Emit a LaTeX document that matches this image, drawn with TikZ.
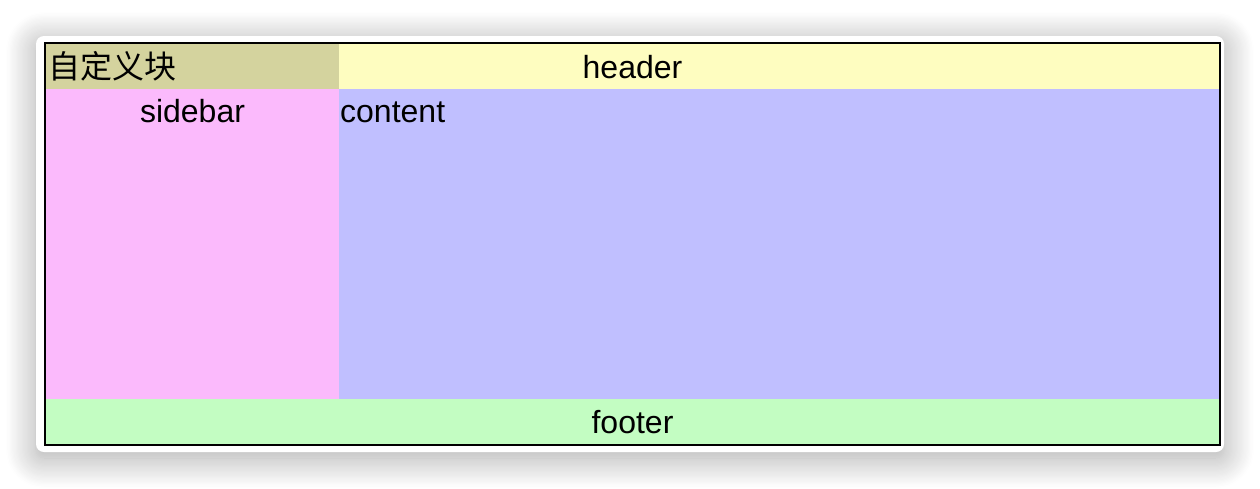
\documentclass[tikz,border=0pt]{standalone}
\usepackage{fontspec}
\setmainfont{Liberation Sans}
\newfontfamily\cjk{Noto Sans CJK SC}
\usetikzlibrary{positioning,shadows.blur}

\definecolor{customcol}{HTML}{D4D39E}
\definecolor{headercol}{HTML}{FEFDC0}
\definecolor{sidebarcol}{HTML}{FBBAFC}
\definecolor{contentcol}{HTML}{C0BFFF}
\definecolor{footercol}{HTML}{C3FDC2}

\tikzset{
  area/.style={inner sep=0pt, outer sep=0pt, anchor=north west, draw=none},
  txt/.style={inner sep=0pt, font=\fontsize{32}{38}\selectfont},
}

\begin{document}
\begin{tikzpicture}[x=1pt, y=-1pt]
		\useasboundingbox (0,0) rectangle (1260,488);
		% card with shadow
		\path[fill=white, rounded corners=8pt,
			blur shadow={shadow xshift=0pt, shadow yshift=-6pt, shadow blur radius=30pt,
				shadow blur steps=25, shadow opacity=35}]
			(36,36) rectangle (1224,452);
		\begin{scope}[every node/.style={area}]
			\node[fill=headercol, minimum width=1173pt, minimum height=45pt] (header) at (46,44) {};
			\node[fill=customcol, minimum width=293pt, minimum height=45pt] (custom) at (46,44) {};
			\node[fill=sidebarcol, minimum width=293pt, minimum height=310pt] (sidebar) at (46,89) {};
			\node[fill=contentcol, minimum width=880pt, minimum height=310pt] (content) at (339,89) {};
			\node[fill=footercol, minimum width=1173pt, minimum height=45pt] (footer) at (46,399) {};
		\end{scope}
		\draw[line width=2pt] (45,43) rectangle (1220,445);
		% labels
		\node[txt, anchor=base west] (customlabel) at ([xshift=2pt, yshift=-34pt]custom.north west) {\cjk 自定义块};
		\node[txt, anchor=base] (headerlabel) at ([yshift=-34pt]header.north) {header};
		\node[txt, anchor=base] (sidebarlabel) at ([yshift=-33pt]sidebar.north) {sidebar};
		\node[txt, anchor=base west] (contentlabel) at ([xshift=1pt, yshift=-33pt]content.north west) {content};
		\node[txt, anchor=base] (footerlabel) at ([yshift=-34pt]footer.north) {footer};
	\end{tikzpicture}
\end{document}
